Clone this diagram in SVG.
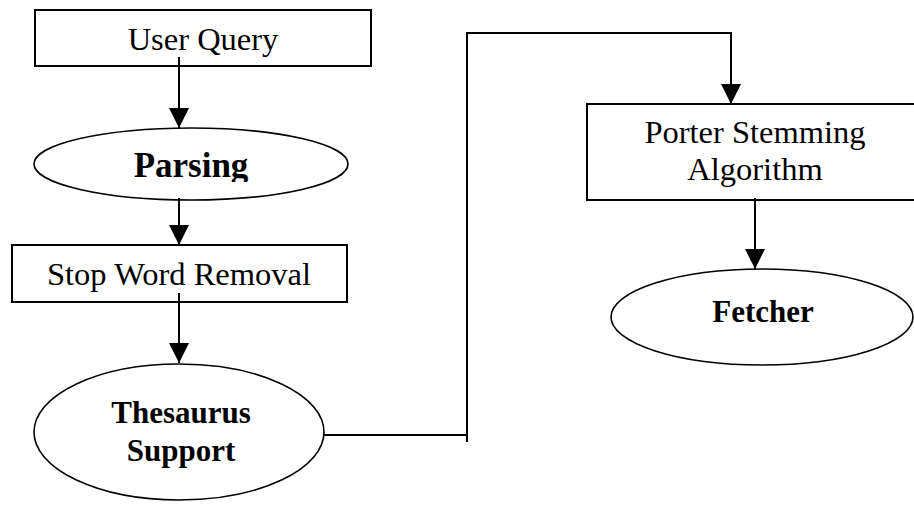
<svg xmlns="http://www.w3.org/2000/svg" width="914" height="510" viewBox="0 0 914 510">
<style>
.box{fill:#fff;stroke:#000;stroke-width:2}
.ell{fill:#fff;stroke:#000;stroke-width:1.6}
.t{font-family:"Liberation Serif","Times New Roman",serif;font-size:32.5px;fill:#000;text-anchor:middle}
.b{font-weight:bold;font-size:31px}
.p{font-size:35px}
.c{fill:none;stroke:#000;stroke-width:2}
</style>
<defs>
<marker id="ah" markerUnits="userSpaceOnUse" markerWidth="20" markerHeight="20" refX="20" refY="10" orient="auto" viewBox="0 0 20 20">
<path d="M0,0 L20,10 L0,20 Z" fill="#000"/>
</marker>
<clipPath id="pc"><rect x="0" y="128" width="914" height="54"/></clipPath>
</defs>
<g id="user-query">
<rect class="box" x="35" y="10" width="336" height="56"/>
<text class="t" x="203" y="50">User Query</text>
</g>
<g id="parsing">
<ellipse class="ell" cx="191" cy="164" rx="157" ry="36"/>
<text class="t b p" x="191" y="177" clip-path="url(#pc)">Parsing</text>
</g>
<g id="stop-word-removal">
<rect class="box" x="12" y="245" width="335" height="57"/>
<text class="t" x="179" y="285">Stop Word Removal</text>
</g>
<g id="thesaurus-support">
<ellipse class="ell" cx="179" cy="432" rx="145" ry="68"/>
<text class="t b" x="181" y="423">Thesaurus</text>
<text class="t b" x="181" y="461">Support</text>
</g>
<g id="porter-stemming">
<rect class="box" x="587" y="104" width="340" height="96"/>
<text class="t" x="755" y="143">Porter Stemming</text>
<text class="t" x="755" y="180">Algorithm</text>
</g>
<g id="fetcher">
<ellipse class="ell" cx="762" cy="317" rx="151" ry="48"/>
<text class="t b" x="763" y="322">Fetcher</text>
</g>
<g id="connectors">
<line class="c" x1="179" y1="57" x2="179" y2="128" marker-end="url(#ah)"/>
<line class="c" x1="179" y1="198" x2="179" y2="245" marker-end="url(#ah)"/>
<line class="c" x1="179" y1="293" x2="179" y2="363" marker-end="url(#ah)"/>
<polyline class="c" points="323,435 467,435"/>
<polyline class="c" points="467,442 467,33 731,33 731,104" marker-end="url(#ah)"/>
<line class="c" x1="755" y1="198" x2="755" y2="269" marker-end="url(#ah)"/>
</g>
</svg>
